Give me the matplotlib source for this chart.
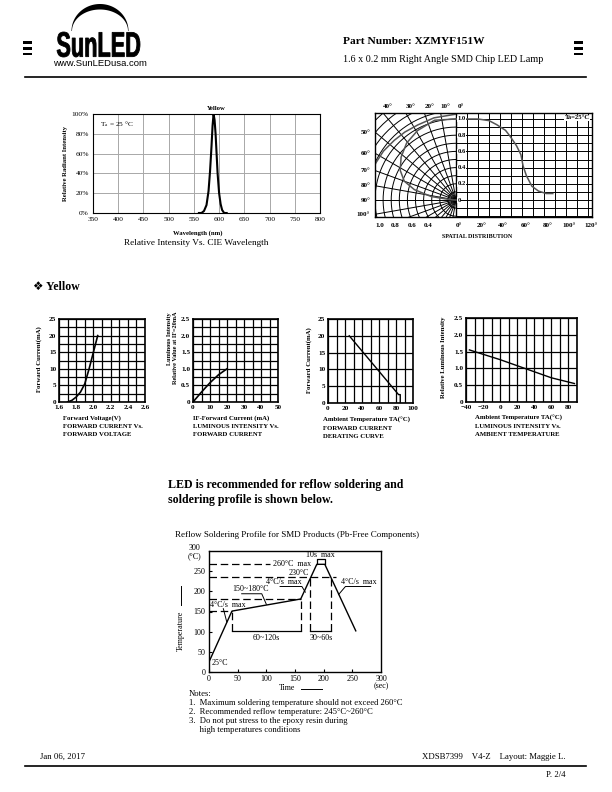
import numpy as np
import matplotlib
matplotlib.use("Agg")
import matplotlib.pyplot as plt
from matplotlib.textpath import TextPath
from matplotlib.font_manager import FontProperties
from matplotlib.patches import PathPatch, Rectangle, Polygon
from matplotlib.transforms import Affine2D

plt.rcParams['font.family'] = ['Liberation Serif', 'DejaVu Sans']
plt.rcParams['mathtext.fontset'] = 'stix'

W, H = 612, 792

# ---- data ----
# relative intensity vs wavelength
wavelength = [560, 565, 570, 575, 579, 582, 585, 587, 589, 591, 593, 595, 597, 600, 603, 606, 610, 615]
rel_intensity = [0, 0, 2, 8, 22, 42, 68, 88, 100, 94, 80, 60, 40, 20, 9, 3, 0, 0]
spec_xticks = [350, 400, 450, 500, 550, 600, 650, 700, 750, 800]
spec_yticks = [0, 20, 40, 60, 80, 100]

# spatial distribution, right half (angle deg, relative intensity)
sd_angle = [0, 10, 20, 30, 37, 45, 49, 55, 59, 61, 64, 69, 75, 82, 88]
sd_int = [1.0, 1.0, 1.0, 0.98, 0.93, 0.86, 0.79, 0.67, 0.56, 0.42, 0.30, 0.17, 0.11, 0.08, 0.08]
# spatial distribution, left polar half (angle from axis deg, radius)
pol_theta = [0, 15, 29, 41, 52, 62, 70, 76, 82, 85, 88, 90]
pol_r = [1.0, 1.02, 0.98, 0.93, 0.86, 0.78, 0.68, 0.53, 0.31, 0.10, 0.04, 0.0]
outer_theta = [0, 15, 27, 37, 46, 56, 65, 72]
outer_r = [1.06, 1.05, 1.04, 1.05, 1.06, 1.08, 1.09, 1.10]

# forward current vs forward voltage
vf = [1.70, 1.75, 1.80, 1.85, 1.90, 1.95, 2.00, 2.05]
if_vf = [0, 0.5, 1.5, 3.0, 5.5, 10.0, 15.0, 20.0]
# luminous intensity vs forward current
if_li = [0, 5, 10, 15, 20]
li_if = [0, 0.3, 0.58, 0.82, 1.0]
# derating curve
ta_der = [25, 83, 85, 85]
if_der = [20, 2.5, 2.5, 0]
# luminous intensity vs ambient temperature
ta_li = [-36, -20, 0, 20, 40, 60, 87]
li_ta = [1.55, 1.42, 1.26, 1.08, 0.90, 0.72, 0.55]

# reflow profile
prof_t = [0, 40, 160, 188, 202, 256]
prof_T = [25, 151, 181, 267, 267, 102]

fig = plt.figure(figsize=(W / 100, H / 100), dpi=100)
bg = fig.add_axes([0, 0, 1, 1])
bg.set_xlim(0, W)
bg.set_ylim(H, 0)
bg.axis('off')


def px_rect(l, t, r, b):
    return [l / W, 1 - b / H, (r - l) / W, (b - t) / H]


def t(x, y, s, size=6, **kw):
    bg.text(x, y, s, fontsize=size, va='center', **kw)


# ---- header ----
for x0 in (23, 574):
    for y0 in (41, 47, 52.5):
        bg.add_patch(Rectangle((x0, y0), 9, 2.6, color='k', lw=0))
tt = np.linspace(0, np.pi, 60)
arc = np.concatenate([np.c_[100 - 28.5 * np.cos(tt), 31 - 27 * np.sin(tt)],
                      np.c_[100 + 28 * np.cos(tt), 31 - 21.5 * np.sin(tt)]])
bg.add_patch(Polygon(arc, closed=True, color='k', lw=0))
tp = TextPath((0, 0), "SunLED", size=1, prop=FontProperties(family='Liberation Sans', weight='bold'))
ext = tp.get_extents()
sx = 83 / ext.width
sy = 25 / ext.height
tr = Affine2D().translate(-ext.x0, -ext.y0).scale(sx, -sy).translate(57, 57)
bg.add_patch(PathPatch(tr.transform_path(tp), color='k', lw=0.6))
t(100, 64, "www.SunLEDusa.com", 6.8, ha='center', family='Liberation Sans')
t(343, 42, "Part Number: XZMYF151W", 8.2, weight='bold')
t(343, 60, "1.6 x 0.2 mm Right Angle SMD Chip LED Lamp", 7.3)
bg.plot([25, 586], [77, 77], 'k', lw=1.2)

# ---- spectrum ----
ax = fig.add_axes(px_rect(93, 114, 320, 213))
ax.plot(wavelength, rel_intensity, 'k', lw=1.5)
ax.set_xlim(350, 800)
ax.set_ylim(0, 100)
ax.set_xticks(spec_xticks)
ax.set_yticks(spec_yticks)
ax.set_yticklabels([f"{v}%" for v in spec_yticks])
ax.grid(color='#a8a8a8', lw=0.7)
ax.tick_params(length=0, labelsize=5.3, pad=3)
for s in ax.spines.values():
    s.set_linewidth(0.8)
ax.set_xlabel("Wavelength (nm)", fontsize=4.8, weight='bold', labelpad=2)
ax.xaxis.set_label_coords(0.46, -0.17)
ax.set_ylabel("Relative Radiant Intensity", fontsize=4.8, weight='bold', labelpad=3)
ax.set_title("Yellow", fontsize=4.8, weight='bold', pad=3, x=0.545)
ax.text(0.03, 0.9, r"T$_{\rm a}$ = 25 °C", transform=ax.transAxes, fontsize=5.3, va='center')
t(196, 243, "Relative Intensity Vs. CIE Wavelength", 6.7, ha='center')

# ---- spatial distribution ----
cx, cy, unit = 456, 200, 81
box_l, box_t, box_r, box_b = 375, 113, 592, 217
pax = fig.add_axes(px_rect(box_l, box_t, box_r, box_b))
xmin, xmax = (box_l - cx) / unit, (box_r - cx) / unit
ymin, ymax = (cy - box_b) / unit, (cy - box_t) / unit
pax.set_xlim(xmin, xmax)
pax.set_ylim(ymin, ymax)
pax.set_xticks([])
pax.set_yticks([])
for s in pax.spines.values():
    s.set_linewidth(1.0)
clip = Rectangle((xmin, ymin), -xmin, ymax - ymin, transform=pax.transData)
ang = np.linspace(0, 2 * np.pi, 200)
for r in np.arange(0.1, 1.55, 0.1):
    ln, = pax.plot(r * np.cos(ang), r * np.sin(ang), 'k', lw=0.7)
    ln.set_clip_path(clip)
for a in range(0, 181, 10):
    ar = np.radians(a)
    ln, = pax.plot([0, -3 * np.sin(ar)], [0, 3 * np.cos(ar)], 'k', lw=0.7)
    ln.set_clip_path(clip)
col_w = 11 / unit
for k in range(0, 14):
    pax.plot([k * col_w, k * col_w], [ymin, ymax], 'k', lw=0.7)
for j in range(-2, 11):
    pax.plot([0, xmax], [j / 10, j / 10], 'k', lw=0.7)
pax.plot([0, 0], [ymin, ymax], 'k', lw=1.0)
th = np.radians(pol_theta)
pax.plot(-np.array(pol_r) * np.sin(th), np.array(pol_r) * np.cos(th), color='#555555', lw=1.1)
oth = np.radians(outer_theta)
ln, = pax.plot(-np.array(outer_r) * np.sin(oth), np.array(outer_r) * np.cos(oth), color='#555555', lw=1.1)
ln.set_clip_path(clip)
pax.plot(np.array(sd_angle) * col_w / 10, sd_int, color='#555555', lw=1.1)
for v, lab in zip([1.0, 0.8, 0.6, 0.4, 0.2, 0.0], ["1.0", "0.8", "0.6", "0.4", "0.2", "0"]):
    pax.text(0.02, v, lab, fontsize=4.8, weight='bold', va='center', ha='left',
             bbox=dict(fc='white', ec='none', pad=0.2))
pax.text(xmax - 0.03, ymax - 0.06, "Ta=25°C", fontsize=4.8, weight='bold', ha='right', va='center',
         bbox=dict(fc='white', ec='none', pad=0.5))
for a in [40, 30, 20, 10, 0]:
    xa = -ymax * np.tan(np.radians(a))
    pax.text(xa + 0.06, ymax + 0.08, f"{a}°", fontsize=5, weight='bold', ha='center', va='center', clip_on=False)
for a in [50, 60, 70, 80, 90, 100]:
    ya = np.cos(np.radians(a)) / np.sin(np.radians(a))
    pax.text(xmin - 0.06, ya, f"{a}°", fontsize=5, weight='bold', ha='right', va='center', clip_on=False)
for r in [1.0, 0.8, 0.6, 0.4]:
    pax.text(-r, ymin - 0.1, f"{r:.1f}", fontsize=5, weight='bold', ha='left', va='center', clip_on=False)
for a in [0, 20, 40, 60, 80, 100, 120]:
    pax.text(a * col_w / 10 + 0.04, ymin - 0.1, f"{a}°", fontsize=5, weight='bold', ha='center', va='center',
             clip_on=False)
t(477, 237, "SPATIAL DISTRIBUTION", 4.3, ha='center', weight='bold')

# ---- section heading ----
t(33, 287, "❖ Yellow", 8.5, weight='bold')


# ---- small charts ----
def grid_chart(box, xlim, ylim, xstep, ystep, xticks, yticks, xlabels, ylabels):
    a = fig.add_axes(px_rect(*box))
    a.set_xlim(*xlim)
    a.set_ylim(*ylim)
    a.set_xticks(np.arange(xlim[0], xlim[1] + xstep / 2, xstep), minor=True)
    a.set_yticks(np.arange(ylim[0], ylim[1] + ystep / 2, ystep), minor=True)
    a.set_xticks(xticks)
    a.set_yticks(yticks)
    a.set_xticklabels(xlabels)
    a.set_yticklabels(ylabels)
    a.grid(which='both', color='k', lw=0.9)
    a.tick_params(which='both', length=0, labelsize=5.2, pad=2.0)
    for lab in a.get_xticklabels() + a.get_yticklabels():
        lab.set_fontweight('bold')
    for s in a.spines.values():
        s.set_linewidth(1.2)
    return a


a1 = grid_chart((59, 319, 145, 402), (1.6, 2.6), (0, 25), 0.1, 2.5,
                [1.6, 1.8, 2.0, 2.2, 2.4, 2.6], [0, 5, 10, 15, 20, 25],
                ["1.6", "1.8", "2.0", "2.2", "2.4", "2.6"], ["0", "5", "10", "15", "20", "25"])
a1.plot(vf, if_vf, 'k', lw=1.2)
a2 = grid_chart((193, 319, 278, 402), (0, 50), (0, 2.5), 5, 0.25,
                [0, 10, 20, 30, 40, 50], [0, 0.5, 1.0, 1.5, 2.0, 2.5],
                ["0", "10", "20", "30", "40", "50"], ["0", "0.5", "1.0", "1.5", "2.0", "2.5"])
a2.plot(if_li, li_if, 'k', lw=1.2)
a3 = grid_chart((328, 319, 413, 403), (0, 100), (0, 25), 10, 5,
                [0, 20, 40, 60, 80, 100], [0, 5, 10, 15, 20, 25],
                ["0", "20", "40", "60", "80", "100"], ["0", "5", "10", "15", "20", "25"])
a3.plot(ta_der, if_der, 'k', lw=1.0)
a4 = grid_chart((466, 318, 577, 402), (-40, 90), (0, 2.5), 10, 0.5,
                [-40, -20, 0, 20, 40, 60, 80], [0, 0.5, 1.0, 1.5, 2.0, 2.5],
                ["−40", "−20", "0", "20", "40", "60", "80"], ["0", "0.5", "1.0", "1.5", "2.0", "2.5"])
a4.plot(ta_li, li_ta, 'k', lw=1.0)

lab_kw = dict(fontsize=4.9, weight='bold', rotation=90, rotation_mode='anchor', va='center', ha='center')
bg.text(39, 359, "Forward Current(mA)", **lab_kw)
bg.text(169, 312, "Luminous Intensity", **dict(lab_kw, ha='right', fontsize=4.5))
bg.text(175.5, 312, "Relative Value at IF=20mA", **dict(lab_kw, ha='right', fontsize=4.5))
bg.text(309, 360, "Forward Current(mA)", **lab_kw)
bg.text(444, 357, "Relative Luminous Intensity", **lab_kw)

caps = [
    (63, ["Forward Voltage(V)", "FORWARD CURRENT Vs.", "FORWARD VOLTAGE"], 418),
    (193, ["IF-Forward Current (mA)", "LUMINOUS INTENSITY Vs.", "FORWARD CURRENT"], 418),
    (323, ["Ambient Temperature TA(°C)", "FORWARD CURRENT", "DERATING CURVE"], 420),
    (475, ["Ambient Temperature TA(°C)", "LUMINOUS INTENSITY Vs.", "AMBIENT TEMPERATURE"], 418),
]
for x0, lines, y0 in caps:
    for i, s in enumerate(lines):
        t(x0, y0 + 8 * i, s, 4.9, weight='bold')

# ---- reflow text ----
t(168, 485, "LED is recommended for reflow soldering and", 8.6, weight='bold')
t(168, 500, "soldering profile is shown below.", 8.6, weight='bold')
t(175, 535, "Reflow Soldering Profile for SMD Products (Pb-Free Components)", 6.5)

rx = fig.add_axes(px_rect(209, 551, 381, 672))
rx.set_xlim(0, 300)
rx.set_ylim(0, 300)
rx.plot(prof_t, prof_T, 'k', lw=1.0)
dash = dict(color='k', lw=0.9, ls=(0, (6, 3)))
rx.plot([0, 107], [267, 267], **dash)
rx.plot([0, 221], [235, 235], **dash)
rx.plot([0, 160], [181, 181], **dash)
rx.plot([0, 40], [151, 151], **dash)
for xv, ytop in [(40, 151), (160, 181), (176, 235), (213, 235)]:
    rx.plot([xv, xv], [101, ytop], **dash)
rx.plot([40, 160], [101, 101], 'k', lw=0.9)
rx.plot([176, 213], [101, 101], 'k', lw=0.9)
rx.plot([188, 188, 202, 202], [267, 279, 279, 267], 'k', lw=0.9)
fs = 5.8
rx.text(100, 84, "60~120s", fontsize=fs, ha='center', va='center')
rx.text(195, 84, "30~60s", fontsize=fs, ha='center', va='center')
rx.text(4, 23, "25°C", fontsize=fs, va='center', ha='left')
rx.text(2, 166, "4°C/s  max", fontsize=fs, va='center', ha='left')
rx.plot([25, 31], [157, 124], 'k', lw=0.7)
rx.text(40, 205, "150~180°C", fontsize=fs, va='center', ha='left')
rx.plot([57, 92, 100], [194, 194, 168], 'k', lw=0.7)
rx.text(100, 222, "4°C/s  max", fontsize=fs, va='center', ha='left')
rx.plot([124, 162, 168], [212, 212, 198], 'k', lw=0.7)
rx.text(112, 268, "260°C  max", fontsize=fs, va='center', ha='left')
rx.text(139, 246, "230°C", fontsize=fs, va='center', ha='left')
rx.text(170, 290, "10s  max", fontsize=fs, va='center', ha='left')
rx.text(230, 222, "4°C/s  max", fontsize=fs, va='center', ha='left')
rx.plot([226, 238, 282], [192, 212, 212], 'k', lw=0.7)
rx.set_xticks([0, 50, 100, 150, 200, 250])
rx.set_yticks([0, 50, 100, 150, 200, 250])
rx.tick_params(direction='in', length=2, labelsize=fs, pad=2.5, top=False, right=False)
for s in rx.spines.values():
    s.set_linewidth(1.0)
t(381, 679, "300", fs, ha='center')
t(381, 686, "(sec)", fs, ha='center')
t(194, 548, "300", fs, ha='center')
t(194, 556, "(°C)", fs, ha='center')
bg.text(181, 631, "Temperature", fontsize=fs, rotation=90, ha='center', va='center')
bg.plot([181, 181], [586, 605], 'k', lw=0.7)
t(279, 688, "Time", fs)
bg.plot([301, 322], [689, 689], 'k', lw=0.7)

notes = ["Notes:",
         "1.  Maximum soldering temperature should not exceed 260°C",
         "2.  Recommended reflow temperature: 245°C~260°C",
         "3.  Do not put stress to the epoxy resin during",
         "     high temperatures conditions"]
for i, s in enumerate(notes):
    t(189, 694 + 9 * i, s, 6.2)

# ---- footer ----
t(40, 757, "Jan 06, 2017", 6.3)
t(566, 757, "XDSB7399    V4-Z    Layout: Maggie L.", 6.3, ha='right')
bg.plot([25, 586], [766, 766], 'k', lw=1.2)
t(566, 775, "P. 2/4", 6.3, ha='right')

fig.savefig("out.png", dpi=100)
